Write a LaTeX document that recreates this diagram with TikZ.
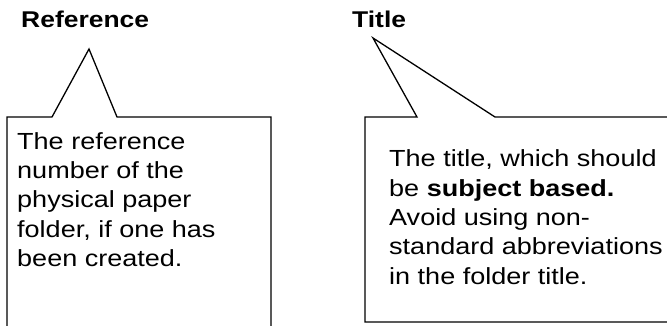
\documentclass[tikz,border=0pt]{standalone}
\usepackage{fontspec}
\setmainfont{Liberation Sans}[FakeStretch=1.16]
\begin{document}
\begin{tikzpicture}[x=1pt,y=-1pt,
  heading/.style={inner sep=0pt,font=\fontsize{22.8}{26}\selectfont\bfseries},
  bodytext/.style={inner sep=0pt,align=left,font=\fontsize{23.3}{29.3}\selectfont},
  callout/.style={line width=1.3pt,line join=miter}]
\useasboundingbox (0,0) rectangle (667,326);
\begin{scope}
\clip (0,0) rectangle (667,326);
% left callout
\coordinate (lbl) at (7,340);
\coordinate (ltl) at (7,117);
\coordinate (lpa) at (52,117);
\coordinate (lpt) at (89,49);
\coordinate (lpb) at (117,117);
\coordinate (ltr) at (271,117);
\coordinate (lbr) at (271,340);
\draw[callout] (lbl) -- (ltl) -- (lpa) -- (lpt) -- (lpb) -- (ltr) -- (lbr);
% right callout
\coordinate (rbl) at (365,322);
\coordinate (rtl) at (365,117);
\coordinate (rpa) at (417,117);
\coordinate (rpt) at (373,38);
\coordinate (rpb) at (495,117);
\coordinate (rtr) at (680,117);
\coordinate (rbr) at (680,322);
\draw[callout] (rtr) -- (rpb) -- (rpt) -- (rpa) -- (rtl) -- (rbl) -- (rbr);
\end{scope}
\node[heading,anchor=base west] (reftitle) at (21,28) {Reference};
\node[heading,anchor=base west] (titletitle) at (352,28) {Title};
\node[bodytext,anchor=base west] (reftext) at (17,266.5) {The reference\\number of the\\physical paper\\folder, if one has\\been created.};
\node[bodytext,anchor=base west] (titletext) at (389,284) {The title, which should\\be \textbf{subject based.}\\Avoid using non-\\standard abbreviations\\in the folder title.};
\end{tikzpicture}
\end{document}
